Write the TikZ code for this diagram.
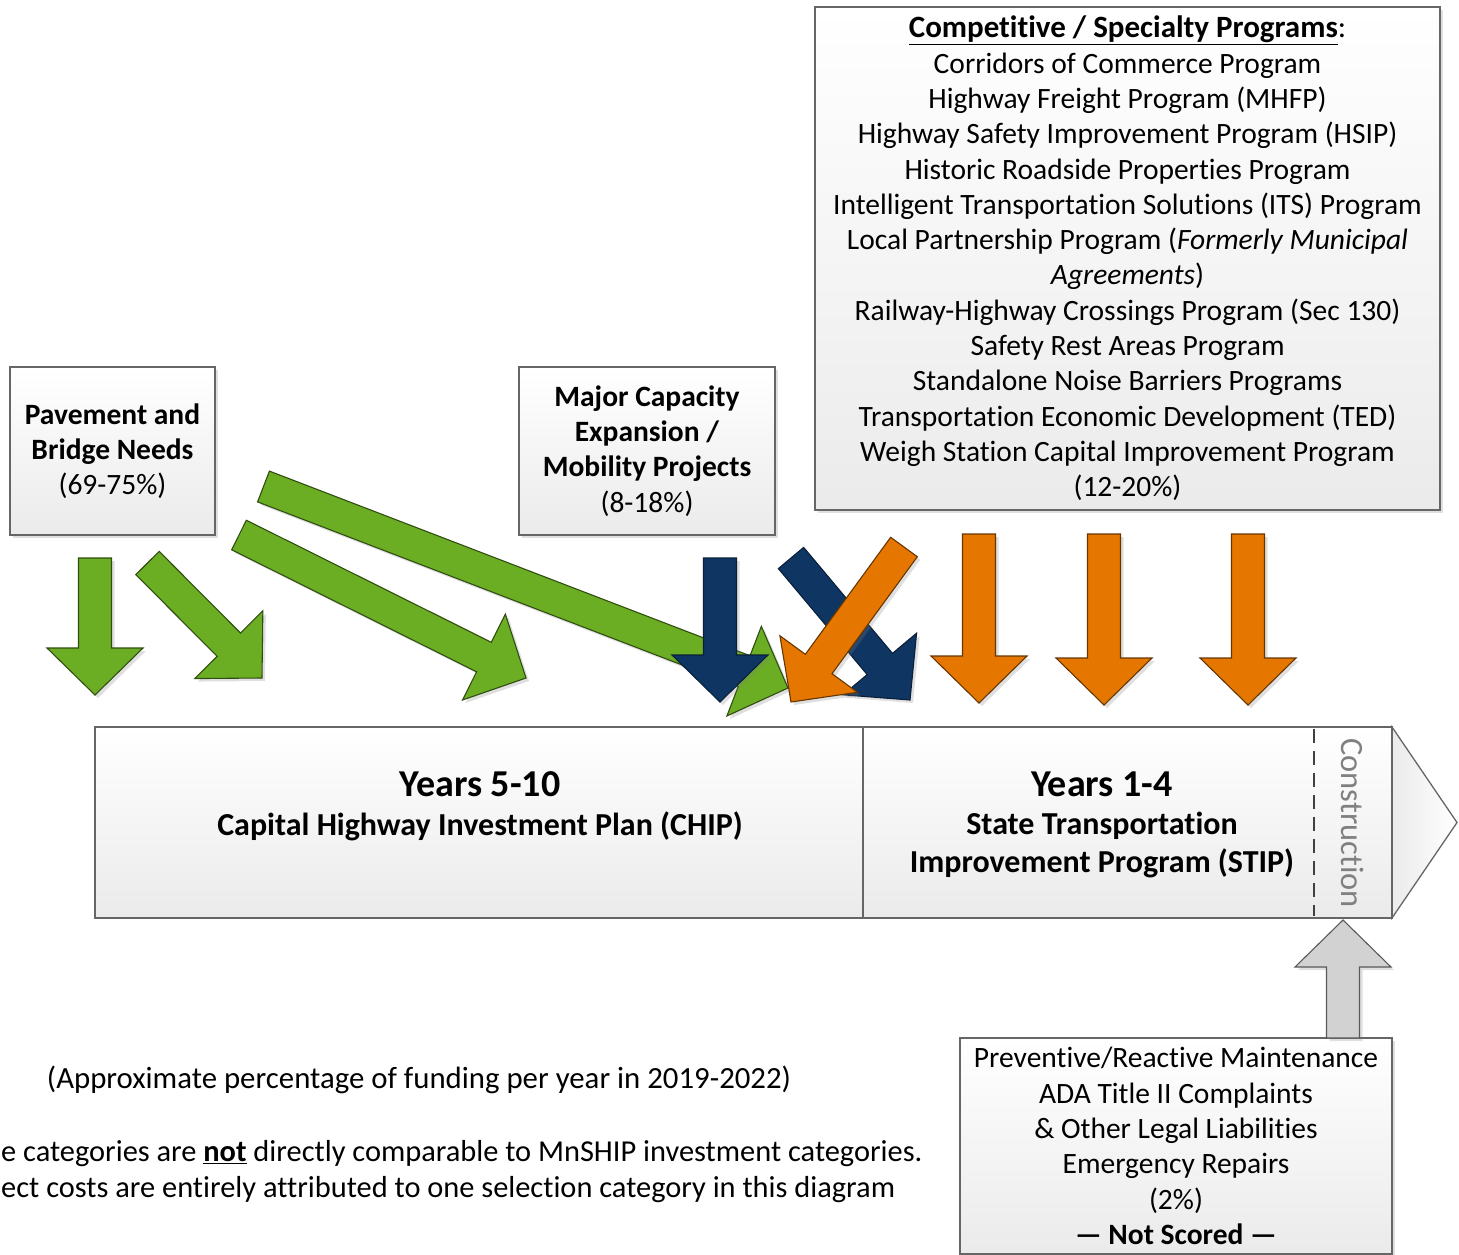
\documentclass[tikz,border=0pt]{standalone}
\usepackage{fontspec}
\setmainfont{Carlito}[Ligatures={TeX,NoCommon}]
\usepackage{tikz}
\usetikzlibrary{calc,shadows}

\definecolor{mngreen}{HTML}{6BAE23}
\definecolor{mnnavy}{HTML}{0F3562}
\definecolor{mnorange}{HTML}{E57700}
\definecolor{mngray}{HTML}{D2D2D2}

\newcommand{\boxfont}{\fontsize{29.5}{35.3}\selectfont}

% block arrow: [style]{name}{tail}{tip}
\newcommand{\fatarrow}[4][]{%
  \coordinate (#2-tail) at #3;
  \coordinate (#2-tip) at #4;
  \coordinate (#2-base) at ($(#2-tip)!47pt!(#2-tail)$);
  \draw[#1] ($(#2-tail)!16.5pt!90:(#2-tip)$) -- ($(#2-base)!16.5pt!90:(#2-tip)$)
    -- ($(#2-base)!48pt!90:(#2-tip)$) -- (#2-tip) -- ($(#2-base)!48pt!-90:(#2-tip)$)
    -- ($(#2-base)!16.5pt!-90:(#2-tip)$) -- ($(#2-tail)!16.5pt!-90:(#2-tip)$) -- cycle;
}

\tikzset{
  shade box/.style={drop shadow={opacity=0.25, shadow xshift=3pt, shadow yshift=-3pt}},
  box/.style={draw=black!60, line width=1.3pt, top color=white, bottom color=black!8,
    align=center, inner sep=0pt, font=\boxfont, shade box},
  bar/.style={draw=black!60, line width=1.3pt, top color=white, bottom color=black!8, inner sep=0pt},
  bartitle/.style={font=\fontsize{38}{44}\selectfont\bfseries},
  barsub/.style={font=\fontsize{32}{38}\selectfont\bfseries, align=center},
  note/.style={font=\fontsize{30.8}{36}\selectfont, inner sep=0pt},
  caveat/.style={note, font=\fontsize{30.4}{36}\selectfont, anchor=west},
  blockarr/.style={line width=1.1pt, line join=miter, shade box},
  greenarr/.style={blockarr, fill=mngreen, draw=mngreen!45!black},
  navyarr/.style={blockarr, fill=mnnavy, draw=mnnavy!60!black},
  orangearr/.style={blockarr, fill=mnorange, draw=mnorange!45!black},
  grayarr/.style={blockarr, fill=mngray, draw=black!65},
}

\begin{document}
\begin{tikzpicture}[x=1pt, y=-1pt]
\useasboundingbox (0,0) rectangle (1459,1255);

% source boxes
\node[box, minimum width=205pt, minimum height=168pt] (pave) at (112.5,451)
  {\textbf{Pavement and}\\\textbf{Bridge Needs}\\(69-75\%)};
\node[box, minimum width=256pt, minimum height=168pt] (major) at (647,451)
  {\textbf{Major Capacity}\\\textbf{Expansion /}\\\textbf{Mobility Projects}\\(8-18\%)};
\node[box, minimum width=625pt, minimum height=503pt] (comp) at (1127.5,258.5)
  {{\fontsize{31}{35.3}\selectfont\underline{\textbf{Competitive / Specialty Programs}}:}\\
   Corridors of Commerce Program\\
   Highway Freight Program (MHFP)\\
   Highway Safety Improvement Program (HSIP)\\
   Historic Roadside Properties Program\\
   Intelligent Transportation Solutions (ITS) Program\\
   Local Partnership Program (\textit{Formerly Municipal}\\
   \textit{Agreements})\\
   Railway-Highway Crossings Program (Sec 130)\\
   Safety Rest Areas Program\\
   Standalone Noise Barriers Programs\\
   Transportation Economic Development (TED)\\
   Weigh Station Capital Improvement Program\\
   (12-20\%)};
\node[box, minimum width=432pt, minimum height=216pt] (maint) at (1176,1146)
  {Preventive/Reactive Maintenance\\
   ADA Title II Complaints\\
   \& Other Legal Liabilities\\
   Emergency Repairs\\
   (2\%)\\
   \textbf{— Not Scored —}};

% timeline bar
\draw[bar, left color=black!8, right color=white] (1392,727) -- (1457,822.5) -- (1392,918) -- cycle;
\node[bar, minimum width=768pt, minimum height=191pt] (chip) at (479,822.5) {};
\node[bar, minimum width=529pt, minimum height=191pt] (stip) at (1127.5,822.5) {};
\coordinate (dashtop) at (1314,729);
\coordinate (dashbot) at (1314,916);
\draw[black!75, line width=2.6pt, dash pattern=on 14pt off 8pt] (dashtop) -- (dashbot);
\node[bartitle] (chipyrs) at (480,784) {Years 5-10};
\node[barsub] (chipname) at (480,826) {Capital Highway Investment Plan (CHIP)};
\node[bartitle] (stipyrs) at (1102,784) {Years 1-4};
\node[barsub] (stipname) at (1102,845) {State Transportation\\Improvement Program (STIP)};
\node[rotate=-90, text=black!50, font=\fontsize{32.5}{38}\selectfont] (constr) at (1353,823) {Construction};

% block arrows
\fatarrow[greenarr]{g1}{(95,558)}{(95,695)}
\fatarrow[greenarr]{g2}{(147.5,563)}{(262,678)}
\fatarrow[greenarr]{g3}{(239,535)}{(526,678)}
\fatarrow[greenarr]{g4}{(263.5,486.5)}{(788,688)}
\fatarrow[navyarr]{n1}{(720,558)}{(720,702)}
\fatarrow[navyarr]{n2}{(791,558)}{(910,700)}
\fatarrow[orangearr]{o1}{(904,547)}{(791,702)}
\fatarrow[orangearr]{o2}{(979,534)}{(979,703)}
\fatarrow[orangearr]{o3}{(1104,534)}{(1104,705)}
\fatarrow[orangearr]{o4}{(1248,534)}{(1248,705)}
\fatarrow[grayarr]{up}{(1343,1038)}{(1343,920)}

% notes
\node[note] (approx) at (419,1080) {(Approximate percentage of funding per year in 2019-2022)};
\node[caveat] (caveat1) at (1,1154)
  {e categories are \underline{\textbf{not}} directly comparable to MnSHIP investment categories.};
\node[caveat] (caveat2) at (1,1190)
  {ect costs are entirely attributed to one selection category in this diagram};
\end{tikzpicture}
\end{document}
